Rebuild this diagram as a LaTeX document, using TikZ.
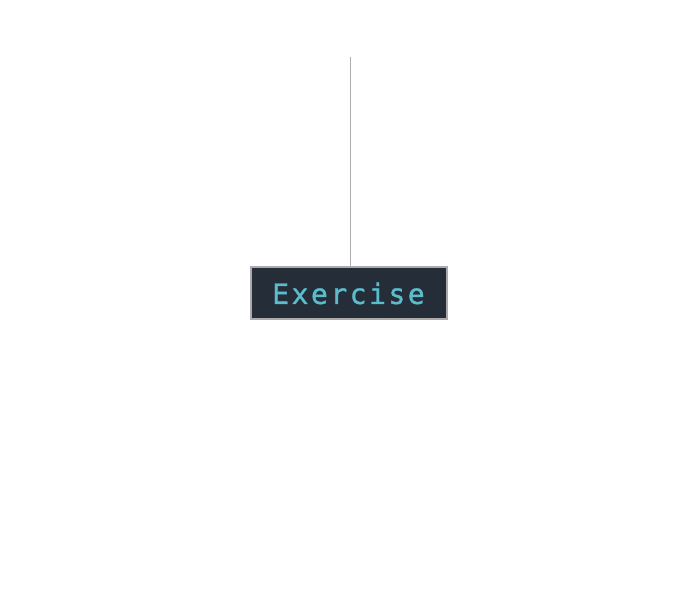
\documentclass[tikz,border=0pt]{standalone}
\usepackage{fontspec}
\newfontfamily\monofont[LetterSpace=9,FakeBold=1.2]{DejaVu Sans Mono}
\definecolor{boxfill}{HTML}{252D38}
\definecolor{boxline}{HTML}{ABABAB}
\definecolor{txtcyan}{HTML}{5BBCCB}
\definecolor{linegray}{HTML}{ADADAD}
\begin{document}
\begin{tikzpicture}[x=1pt,y=1pt,
  labelbox/.style={draw=boxline, line width=2pt, fill=boxfill, text=txtcyan,
    minimum width=196pt, minimum height=52pt, inner sep=0pt,
    font=\monofont\fontsize{28}{30}\selectfont},
  conn/.style={draw=linegray, line width=1.3pt}]
\useasboundingbox (0,0) rectangle (700,593);
\fill[white] (0,0) rectangle (700,593);
\node[labelbox] (ex) at (348.5,299.5) {Exercise};
\coordinate (top) at (350.5,536);
\draw[conn] (top) -- (top |- ex.north);
\end{tikzpicture}
\end{document}
